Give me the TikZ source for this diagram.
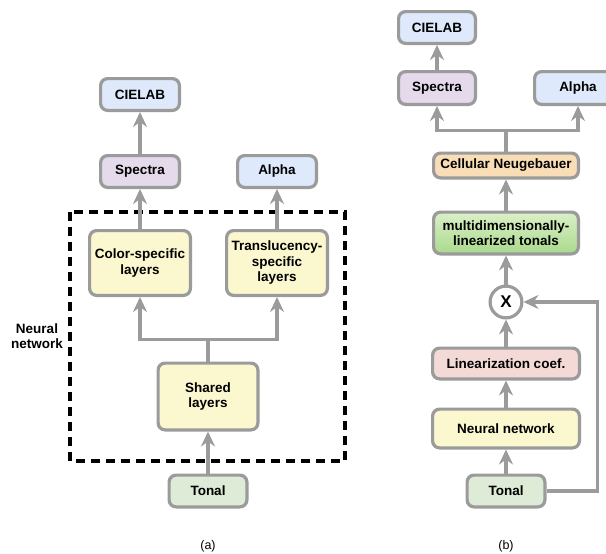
\documentclass[tikz,border=0pt]{standalone}
\usepackage{fontspec}
\setmainfont{Liberation Sans}
\usetikzlibrary{arrows.meta,positioning,calc}
\definecolor{DGBorder}{HTML}{9B9B9B}
\definecolor{DGBlue}{HTML}{DEE9FB}
\definecolor{DGPurple}{HTML}{E4DAEB}
\definecolor{DGYellow}{HTML}{FBF8CF}
\definecolor{DGGreen}{HTML}{DEEBD6}
\definecolor{DGOrange}{HTML}{F9DDB6}
\definecolor{DGPink}{HTML}{F4DAD7}
\definecolor{DGLimeTop}{HTML}{DAF0C8}
\definecolor{DGLimeBot}{HTML}{AAD98D}
\begin{document}
\begin{tikzpicture}[
        x=1pt,y=1pt,
        box/.style={draw=DGBorder,line width=3.2pt,rounded corners=7pt,minimum height=31.8pt,
          align=center,inner sep=2pt,font=\fontsize{13.5}{15.5}\selectfont\bfseries},
        arrow/.style={-{Stealth[length=15pt,width=14pt,inset=5pt]},line width=3.2pt,DGBorder},
        joint/.style={line width=3.2pt,DGBorder},
        netframe/.style={line width=3.2pt,dash pattern=on 9pt off 6pt},
        lbl/.style={align=center,font=\fontsize{13.5}{15.5}\selectfont\bfseries},
        subcap/.style={font=\fontsize{12.5}{14}\selectfont}
      ]
        \useasboundingbox (0,0) rectangle (606,-554);
        % (a)
        \draw[netframe] (70,-212) rectangle (345,-461);
        \node[box,fill=DGGreen,minimum width=77.8pt] (tonalA) at (208,-491) {Tonal};
        \node[box,fill=DGYellow,minimum width=99.8pt,minimum height=66.8pt,above=42pt of tonalA] (sharedA) {Shared\\layers};
        \node[box,fill=DGYellow,minimum width=100.8pt,minimum height=64.8pt] (colorA) at (140,-263) {Color-specific\\layers};
        \node[box,fill=DGYellow,minimum width=100.8pt,minimum height=64.8pt,right=33pt of colorA] (transA) {Translucency-\\specific\\layers};
        \node[box,fill=DGPurple,minimum width=78.8pt,above=40pt of colorA] (spectraA) {Spectra};
        \node[box,fill=DGBlue,minimum width=78.8pt,above=42pt of spectraA] (cielabA) {CIELAB};
        \node[box,fill=DGBlue,minimum width=78.8pt,above=40pt of transA] (alphaA) {Alpha};
        \node[lbl] (nnlabel) at (37,-336) {Neural\\network};
        \node[subcap] (capA) at (208,-546) {(a)};
        \draw[arrow] (tonalA)--(sharedA);
        \draw[arrow] (sharedA.north)--++(0,22)-|(colorA);
        \draw[arrow] (sharedA.north)--++(0,22)-|(transA);
        \draw[arrow] (colorA)--(spectraA);
        \draw[arrow] (spectraA)--(cielabA);
        \draw[arrow] (transA)--(alphaA);
        % (b)
        \node[box,fill=DGGreen,minimum width=77.8pt] (tonalB) at (506,-491) {Tonal};
        \node[box,fill=DGYellow,minimum width=146.8pt,minimum height=38.8pt,above=24pt of tonalB] (neuralB) {Neural network};
        \node[box,fill=DGPink,minimum width=146.8pt,minimum height=30.8pt,above=27pt of neuralB] (linB) {Linearization coef.};
        \node[circle,draw=DGBorder,line width=3.2pt,fill=white,minimum size=31.8pt,inner sep=0pt,
          font=\fontsize{17}{18}\selectfont\bfseries,above=27pt of linB] (mult) {X};
        \node[box,top color=DGLimeTop,bottom color=DGLimeBot,minimum width=144.8pt,minimum height=41.8pt,above=29pt of mult] (multiB) {multidimensionally-\\linearized tonals};
        \node[box,fill=DGOrange,minimum width=144.8pt,minimum height=24.8pt,above=31pt of multiB] (cellB) {Cellular Neugebauer};
        \node[box,fill=DGPurple,minimum width=76.8pt,minimum height=32.8pt] (spectraB) at (437,-88) {Spectra};
        \node[box,fill=DGBlue,minimum width=86.8pt,minimum height=32.8pt,right=56pt of spectraB] (alphaB) {Alpha};
        \node[box,fill=DGBlue,minimum width=76.8pt,above=25pt of spectraB] (cielabB) {CIELAB};
        \node[subcap] (capB) at (506,-546) {(b)};
        \draw[arrow] (tonalB)--(neuralB);
        \draw[arrow] (neuralB)--(linB);
        \draw[arrow] (linB)--(mult);
        \draw[arrow] (mult)--(multiB);
        \draw[arrow] (multiB)--(cellB);
        \draw[arrow] (tonalB.east)--++(51,0)|-(mult);
        \draw[joint] (cellB.north)--++(0,21) coordinate (joinB);
        \draw[arrow] (joinB)-|(spectraB);
        \draw[arrow] (joinB)-|(alphaB);
        \draw[arrow] (spectraB)--(cielabB);
      \end{tikzpicture}
\end{document}
